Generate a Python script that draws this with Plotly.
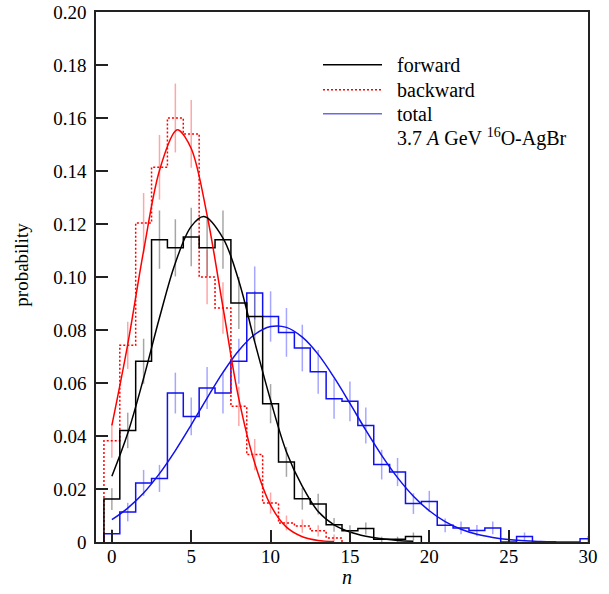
import plotly.graph_objects as go

# ---------------- data ----------------
fwd_n = list(range(0, 20))
fwd_prob = [0.0162, 0.0421, 0.0682, 0.1141, 0.1110, 0.1151, 0.1110, 0.1141, 0.0902, 0.0851,
            0.0522, 0.0302, 0.0163, 0.0143, 0.0065, 0.0042, 0.0051, 0.0010, 0.0010, 0.0021]
fwd_err = [0.0041, 0.0067, 0.0085, 0.0110, 0.0108, 0.0110, 0.0108, 0.0110, 0.0098, 0.0095,
           0.0074, 0.0056, 0.0041, 0.0039, 0.0026, 0.0021, 0.0023, 0.0010, 0.0010, 0.0015]

bwd_n = list(range(0, 15))
bwd_prob = [0.0382, 0.0742, 0.1204, 0.1414, 0.1600, 0.1540, 0.1000, 0.0883, 0.0512, 0.0330,
            0.0147, 0.0072, 0.0060, 0.0042, 0.0015]
bwd_err = [0.0064, 0.0089, 0.0113, 0.0122, 0.0130, 0.0128, 0.0103, 0.0097, 0.0074, 0.0059,
           0.0040, 0.0028, 0.0025, 0.0021, 0.0013]

tot_n = list(range(0, 31))
tot_prob = [0.0031, 0.0113, 0.0223, 0.0240, 0.0562, 0.0474, 0.0581, 0.0562, 0.0682, 0.0940,
            0.0851, 0.0791, 0.0732, 0.0642, 0.0541, 0.0531, 0.0440, 0.0292, 0.0264, 0.0145,
            0.0153, 0.0063, 0.0053, 0.0043, 0.0053, 0.0, 0.0021, 0.0, 0.0, 0.0, 0.0012]
tot_err = [0.0018, 0.0035, 0.0049, 0.0051, 0.0077, 0.0071, 0.0079, 0.0077, 0.0085, 0.0100,
           0.0095, 0.0092, 0.0088, 0.0083, 0.0076, 0.0075, 0.0068, 0.0056, 0.0053, 0.0039,
           0.0040, 0.0026, 0.0024, 0.0021, 0.0024, 0.0, 0.0015, 0.0, 0.0, 0.0, 0.0011]

# fitted curves
fit_fwd_n = [0, 1, 2, 3, 4, 5, 5.8, 7, 8, 9, 10, 11, 12, 13, 14, 15, 16, 17, 18, 19]
fit_fwd = [0.0248, 0.0410, 0.0618, 0.0846, 0.1053, 0.1191, 0.1228, 0.1147, 0.0985, 0.0755,
           0.0535, 0.0340, 0.0210, 0.0115, 0.0065, 0.0038, 0.0022, 0.0012, 0.0006, 0.0003]

fit_bwd_n = [0, 1, 2, 3, 4, 4.2, 5, 6, 7, 8, 9, 10, 11, 12, 13, 14]
fit_bwd = [0.0440, 0.0746, 0.1099, 0.1402, 0.1551, 0.1555, 0.1485, 0.1233, 0.0886, 0.0540,
           0.0298, 0.0139, 0.0056, 0.0020, 0.0006, 0.0002]

fit_tot_n = list(range(0, 29))
fit_tot = [0.0084, 0.0128, 0.0185, 0.0258, 0.0345, 0.0442, 0.0543, 0.0640, 0.0723, 0.0783,
           0.0813, 0.0810, 0.0773, 0.0708, 0.0621, 0.0523, 0.0422, 0.0327, 0.0243, 0.0173,
           0.0118, 0.0077, 0.0048, 0.0029, 0.0017, 0.0009, 0.0005, 0.0002, 0.0001]

y_ticks = [0, 0.02, 0.04, 0.06, 0.08, 0.10, 0.12, 0.14, 0.16, 0.18, 0.20]
y_ticktext = ["0", "0.02", "0.04", "0.06", "0.08", "0.10", "0.12", "0.14", "0.16", "0.18", "0.20"]
x_ticks = [0, 5, 10, 15, 20, 25, 30]

legend_names = ["forward", "backward", "total"]
legend_extra = "3.7 <i>A</i> GeV <sup>16</sup>O-AgBr"
x_title = "<i>n</i>"
y_title = "probability"

BLACK = "#000000"
RED = "#ff0000"
BLUE = "#1010f0"
FONT = "Liberation Serif"


def step_xy(ns, vals):
    xs = [ns[0] - 0.5] + [n + 0.5 for n in ns] + [ns[-1] + 0.5]
    ys = [0.0] + list(vals) + [0.0]
    return xs, ys


fig = go.Figure()

# error bars
for ns, vals, errs, col in [
    (fwd_n, fwd_prob, fwd_err, "rgba(0,0,0,0.35)"),
    (bwd_n, bwd_prob, bwd_err, "rgba(255,0,0,0.35)"),
    (tot_n, tot_prob, tot_err, "rgba(0,0,255,0.35)"),
]:
    keep = [i for i, v in enumerate(vals) if v > 0]
    fig.add_trace(go.Scatter(
        x=[ns[i] for i in keep], y=[vals[i] for i in keep], mode="markers",
        marker=dict(size=1, opacity=0),
        error_y=dict(type="data", array=[errs[i] for i in keep], visible=True,
                     color=col, thickness=1.5, width=0),
        showlegend=False, hoverinfo="skip"))

# histograms
for ns, vals, col, dash in [
    (tot_n, tot_prob, BLUE, "solid"),
    (bwd_n, bwd_prob, RED, "2px,2px"),
    (fwd_n, fwd_prob, BLACK, "solid"),
]:
    xs, ys = step_xy(ns, vals)
    fig.add_trace(go.Scatter(x=xs, y=ys, mode="lines", line=dict(color=col, width=1.5, dash=dash, shape="vh"),
                             showlegend=False, hoverinfo="skip"))

# fits
for xs, ys, col in [(fit_tot_n, fit_tot, BLUE), (fit_bwd_n, fit_bwd, RED), (fit_fwd_n, fit_fwd, BLACK)]:
    fig.add_trace(go.Scatter(x=xs, y=ys, mode="lines", line=dict(color=col, width=1.5, shape="spline"),
                             showlegend=False, hoverinfo="skip"))

# page-pixel -> paper helpers (plot area spans x 96..588, y 12.3..542.3)
L, R, T, B = 96, 588, 12.3, 542.3
def px(x):
    return (x - L) / (R - L)
def py(y):
    return (B - y) / (B - T)

# manual legend
rows = [65, 90, 114, 138]
for name, yy, col, dash in zip(legend_names, rows, [BLACK, RED, "#6a6ae6"], ["solid", "2px,2px", "solid"]):
    fig.add_shape(type="line", xref="paper", yref="paper", x0=px(323), x1=px(382), y0=py(yy), y1=py(yy),
                  line=dict(color=col, width=1.5, dash=dash))
    fig.add_annotation(xref="paper", yref="paper", x=px(395), y=py(yy), text=name, showarrow=False,
                       xanchor="left", yanchor="middle", font=dict(family=FONT, size=20, color="black"))
fig.add_annotation(xref="paper", yref="paper", x=px(395), y=py(rows[3]), text=legend_extra, showarrow=False,
                   xanchor="left", yanchor="middle", font=dict(family=FONT, size=20, color="black"))

# axis titles
fig.add_annotation(xref="paper", yref="paper", x=px(347), y=py(577), text=x_title, showarrow=False,
                   xanchor="center", yanchor="middle", font=dict(family=FONT, size=20, color="black"))
fig.add_annotation(xref="paper", yref="paper", x=px(22), y=py(265), text=y_title, showarrow=False,
                   textangle=-90, xanchor="center", yanchor="middle", font=dict(family=FONT, size=19, color="black"))

axis_common = dict(showline=True, linecolor="#222", linewidth=1.5, mirror=True, showgrid=False, zeroline=False,
                   ticks="inside", ticklen=12, tickwidth=1.5, tickcolor="#222", automargin=False,
                   ticklabeloverflow="allow",
                   tickfont=dict(family=FONT, size=19, color="black"))

fig.update_layout(
    width=609, height=594,
    margin=dict(l=96, r=21, t=12, b=52),
    plot_bgcolor="white", paper_bgcolor="white",
    showlegend=False,
    font=dict(family=FONT, size=19, color="black"),
    xaxis=dict(range=[-1, 30], tickvals=x_ticks, ticklabelstandoff=-4, **axis_common),
    yaxis=dict(range=[0, 0.20], tickvals=y_ticks, ticktext=y_ticktext, ticklabelstandoff=4, **axis_common),
)

# remove the default 8px page margin so the figure sits at the window origin
fig.write_html("out.html", config={"displayModeBar": False},
               post_script="document.body.style.margin='0';")
